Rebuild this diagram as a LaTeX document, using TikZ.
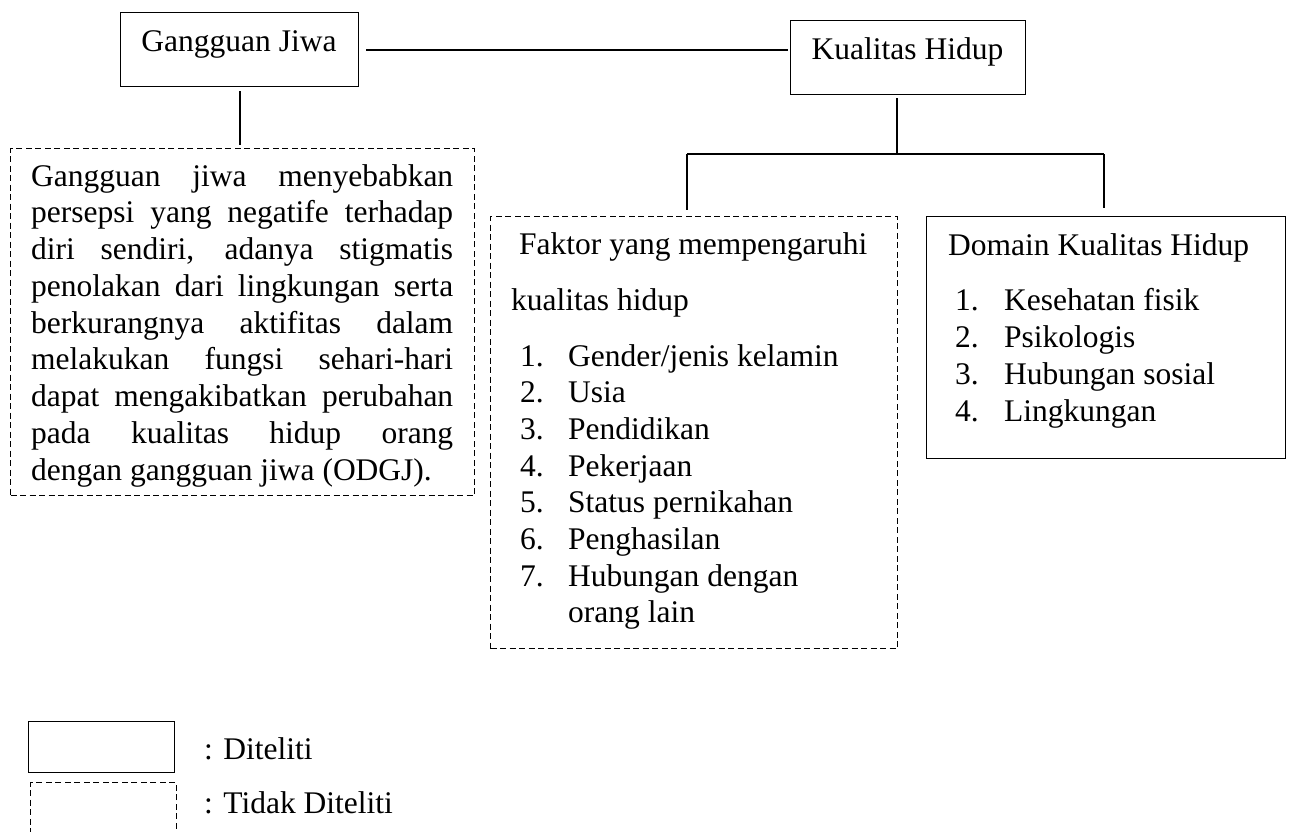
\documentclass[tikz,border=0pt]{standalone}
\usepackage{fontspec}
\setmainfont{Liberation Serif}
\newcommand{\jline}[1]{\makebox[422pt][s]{#1}}
\newcommand{\normsp}{\spaceskip=0pt\xspaceskip=0pt\relax}
\begin{document}
\begin{tikzpicture}[x=1pt,y=-1pt,
  box/.style={draw, line width=1.3pt, inner sep=0pt, anchor=north west},
  dbox/.style={draw, line width=1.1pt, dash pattern=on 6pt off 3.5pt, inner sep=0pt, anchor=north west},
  conn/.style={line width=1.9pt},
  txt/.style={inner sep=0pt, font=\fontsize{31.5}{36.75}\selectfont},
  ]
\useasboundingbox (0,0) rectangle (1290,831);
\clip (0,0) rectangle (1290,831);

% boxes
\node[box, minimum width=238pt, minimum height=74pt] (gj) at (120,12) {};
\node[box, minimum width=235pt, minimum height=74pt] (kh) at (790,20) {};
\node[dbox, minimum width=464pt, minimum height=347pt] (para) at (10,148) {};
\node[dbox, minimum width=407pt, minimum height=432pt] (faktor) at (490,216) {};
\node[box, minimum width=359pt, minimum height=242pt] (domain) at (926,216) {};

% box texts
\node[txt, anchor=base] (gjt) at (239,51) {Gangguan Jiwa};
\node[txt, anchor=base] (kht) at (907.5,59) {Kualitas Hidup};

\node[txt, anchor=base west, text width=422pt, align=left] (ptx) at (31,186) {\normsp
\jline{Gangguan jiwa menyebabkan}\\
\jline{persepsi yang negatife terhadap}\\
\jline{diri sendiri, adanya stigmatis}\\
\jline{penolakan dari lingkungan serta}\\
\jline{berkurangnya aktifitas dalam}\\
\jline{melakukan fungsi sehari-hari}\\
\jline{dapat mengakibatkan perubahan}\\
\jline{pada kualitas hidup orang}\\
dengan gangguan jiwa (ODGJ).};

\node[txt, anchor=base west] (ft1) at (519,254) {Faktor yang mempengaruhi};
\node[txt, anchor=base west] (ft2) at (511,310) {kualitas hidup};
\node[txt, anchor=base west, text width=340pt, align=left,
      font=\fontsize{31.5}{36.7}\selectfont] (flist) at (520,366) {\normsp
\makebox[48pt][l]{1.}Gender/jenis kelamin\\
\makebox[48pt][l]{2.}Usia\\
\makebox[48pt][l]{3.}Pendidikan\\
\makebox[48pt][l]{4.}Pekerjaan\\
\makebox[48pt][l]{5.}Status pernikahan\\
\makebox[48pt][l]{6.}Penghasilan\\
\makebox[48pt][l]{7.}Hubungan dengan\\
\makebox[48pt][l]{}orang lain};

\node[txt, anchor=base west] (dt1) at (948,255) {Domain Kualitas Hidup};
\node[txt, anchor=base west, text width=320pt, align=left,
      font=\fontsize{31.5}{37}\selectfont] (dlist) at (955,310) {\normsp
\makebox[49pt][l]{1.}Kesehatan fisik\\
\makebox[49pt][l]{2.}Psikologis\\
\makebox[49pt][l]{3.}Hubungan sosial\\
\makebox[49pt][l]{4.}Lingkungan};

% connectors
\draw[conn, shorten <=7pt, shorten >=2pt] (gj.east) -- (gj.east -| kh.west);
\draw[conn, shorten <=4pt, shorten >=3pt] (gj.south) -- (gj.south |- para.north);
\coordinate (junc) at (897,154);
\coordinate (jl) at (687,154);
\coordinate (jr) at (1104,154);
\draw[conn, shorten <=3pt] (kh.south -| junc) -- (junc);
\draw[conn] (jl) -- (jr);
\draw[conn, shorten >=6pt] (jl) -- (jl |- faktor.north);
\draw[conn, shorten >=8pt] (jr) -- (jr |- domain.north);

% legend
\node[box, minimum width=146pt, minimum height=51pt] (lg1) at (28,721) {};
\node[dbox, minimum width=146pt, minimum height=90pt] (lg2) at (30,782) {};
\node[txt, anchor=base west] (lt1) at (204,759) {: Diteliti};
\node[txt, anchor=base west] (lt2) at (204,813) {: Tidak Diteliti};
\end{tikzpicture}
\end{document}
